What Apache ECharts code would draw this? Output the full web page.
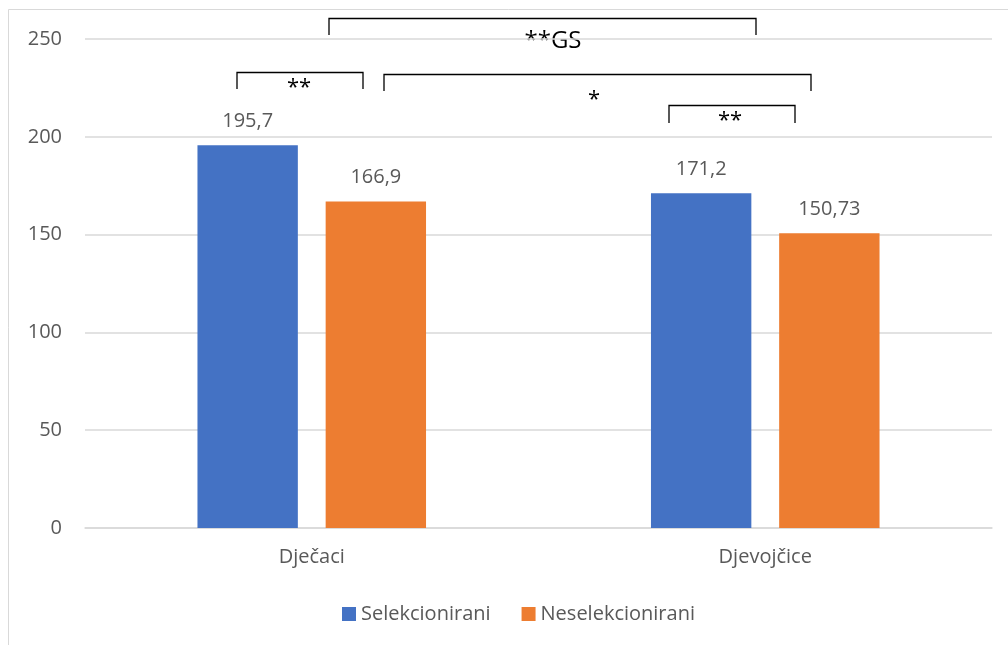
<!DOCTYPE html>
<html>
<head>
<meta charset="utf-8">
<script src="https://cdn.jsdelivr.net/npm/echarts@6/dist/echarts.min.js"></script>
<style>
html,body{margin:0;padding:0;background:#fff;}
#main{width:1008px;height:645px;}
</style>
</head>
<body>
<div id="main"></div>
<script>
const categories = ['Dječaci', 'Djevojčice'];
const seriesNames = ['Selekcionirani', 'Neselekcionirani'];
const selekcionirani = [195.7, 171.2];
const neselekcionirani = [166.9, 150.73];
const yTicks = [0, 50, 100, 150, 200, 250];

const FONT = '"Open Sans", "Noto Sans", sans-serif';
const TXT = '#595959';

const chart = echarts.init(document.getElementById('main'), null, {renderer: 'canvas'});

function bracket(x1, x2, yTop, yBot) {
  return {
    type: 'polyline', silent: true,
    shape: {points: [[x1, yBot], [x1, yTop], [x2, yTop], [x2, yBot]]},
    style: {stroke: '#000', lineWidth: 1.3, fill: null}
  };
}
function star(x, y, t, size) {
  return {
    type: 'text', silent: true, x: x, y: y,
    style: {text: t, font: size + 'px ' + FONT, fill: '#000', align: 'center', verticalAlign: 'middle'}
  };
}

const labelOpt = {
  show: true, position: 'top', distance: 14,
  fontFamily: FONT, fontSize: 20, color: TXT,
  formatter: p => String(p.value).replace('.', ',')
};

chart.setOption({
  animation: false,
  backgroundColor: '#fff',
  grid: {left: 85, right: 16, top: 39, bottom: 117},
  legend: {
    data: seriesNames, left: 337, top: 599,
    icon: 'rect', itemWidth: 14, itemHeight: 14, itemGap: 31,
    textStyle: {fontFamily: FONT, fontSize: 20, color: TXT}
  },
  xAxis: {
    type: 'category', data: categories,
    axisLine: {show: true, lineStyle: {color: '#D9D9D9', width: 1.5}},
    axisTick: {show: false},
    axisLabel: {fontFamily: FONT, fontSize: 20, color: TXT, margin: 19}
  },
  yAxis: {
    type: 'value', min: yTicks[0], max: yTicks[yTicks.length - 1], interval: 50,
    axisLine: {show: false}, axisTick: {show: false},
    splitLine: {lineStyle: {color: '#D9D9D9', width: 1.5}},
    axisLabel: {fontFamily: FONT, fontSize: 20, color: TXT, margin: 23}
  },
  series: [
    {name: seriesNames[0], type: 'bar', data: selekcionirani, itemStyle: {color: '#4472C4'},
     barGap: '27.7%', barCategoryGap: '49.6%', label: labelOpt},
    {name: seriesNames[1], type: 'bar', data: neselekcionirani, itemStyle: {color: '#ED7D31'},
     label: labelOpt}
  ],
  graphic: [
    {type: 'rect', silent: true, shape: {x: 8.5, y: 9.5, width: 1100, height: 700},
     style: {stroke: '#D9D9D9', lineWidth: 1, fill: null}},
    bracket(329, 756, 18.5, 35),
    star(553, 41, '**GS', 24),
    bracket(237, 363, 72.5, 89),
    star(299, 88, '**', 22),
    bracket(384, 811, 74.5, 91),
    star(594, 100, '*', 22),
    bracket(669, 795, 105.5, 123),
    star(730, 121, '**', 22)
  ]
});
</script>
</body>
</html>
